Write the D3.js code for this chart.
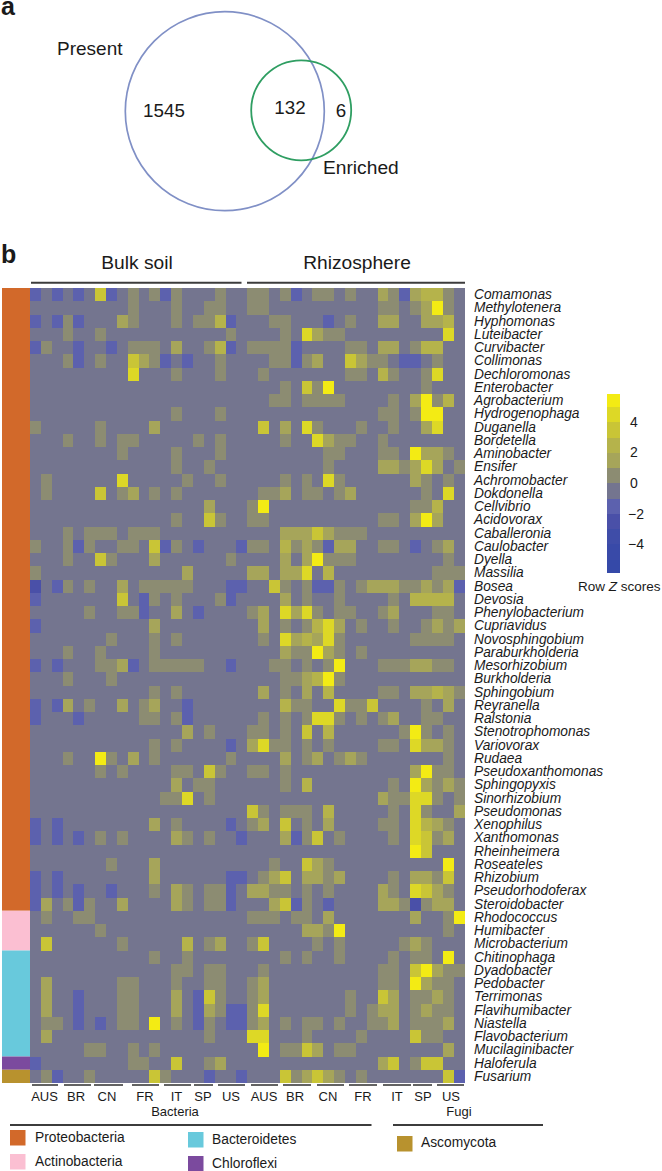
<!DOCTYPE html>
<html><head><meta charset="utf-8"><script src="https://cdn.jsdelivr.net/npm/d3@7"></script>
<style>html,body{margin:0;padding:0;background:#fff}svg{display:block}text{font-family:"Liberation Sans",Arial,sans-serif;fill:#1a1a1a}</style>
</head><body><div id="c"></div><script>
const genera=["Comamonas","Methylotenera","Hyphomonas","Luteibacter","Curvibacter","Collimonas","Dechloromonas","Enterobacter","Agrobacterium","Hydrogenophaga","Duganella","Bordetella","Aminobacter","Ensifer","Achromobacter","Dokdonella","Cellvibrio","Acidovorax","Caballeronia","Caulobacter","Dyella","Massilia","Bosea","Devosia","Phenylobacterium","Cupriavidus","Novosphingobium","Paraburkholderia","Mesorhizobium","Burkholderia","Sphingobium","Reyranella","Ralstonia","Stenotrophomonas","Variovorax","Rudaea","Pseudoxanthomonas","Sphingopyxis","Sinorhizobium","Pseudomonas","Xenophilus","Xanthomonas","Rheinheimera","Roseateles","Rhizobium","Pseudorhodoferax","Steroidobacter","Rhodococcus","Humibacter","Microbacterium","Chitinophaga","Dyadobacter","Pedobacter","Terrimonas","Flavihumibacter","Niastella","Flavobacterium","Mucilaginibacter","Haloferula","Fusarium"];
// Each token is column index + score bin (1..6 positive bins, a/c negative bins); anything absent is the neutral bin.
const scoreRows=[
"0a 2a 4a 64 7a 91 111 12a 131 171 201 211 231 24a 261 271 291 322 331 34a 352 363 373 381",
"91 131 161 171 201 211 321 331 351 362 376 381",
"0a 2a 31 4a 82 91 131 151 161 173 18a 221 231 27a 291 322 332 362 372 383",
"31 61 181 231 255 262 271 281 385",
"0a 11 4a 7a 91 101 111 132 161 173 18a 201 211 221 231 24a 291 301 322 332 351 363 373",
"31 4a 61 94 102 111 12a 14a 171 221 231 24a 251 262 294 302 311 321 34a 35a 371",
"95 131 171 211 291 301 323 331 361 375",
"231 254 261 276 361",
"221 231 251 261 271 281 331 352 366 371 383",
"131 171 321 331 351 366 376",
"01 61 112 214 232 255 261 301 331 362 375",
"31 61 81 91 151 171 231 265 272 281 291 321",
"81 131 171 271 281 321 331 356 362 372 381",
"131 161 271 322 332 341 352 365 372 391",
"11 85 141 171 231 251 275 281 352 361 381",
"11 64 81 92 111 131 211 221 232 251 261 281 292 361 385",
"162 201 216 351 361 373",
"131 164 171 201 211 321 331 352 366 372",
"31 51 61 71 91 101 111 232 242 252 264 272 281 291 301",
"01 31 4a 51 81 91 114 12a 131 15a 19a 201 211 233 241 252 261 27a 282 292 321 331 35a 371 382",
"31 64 71 112 181 232 252 266 271 281 291 381",
"01 142 202 212 232 242 255 273 371 381 391",
"0c 2a 31 51 82 101 111 121 131 141 18a 19a 224 231 251 26a 27a 281 301 312 322 332 341 351 362 371 382 39a",
"0a 84 10a 111 131 171 18a 232 251 281 331 353 363 373 383",
"51 81 91 10a 132 15a 201 212 235 242 255 261 281 291 321 332 371 381",
"0a 112 212 231 251 263 275 282 301 331 361 372 381 392",
"71 111 131 211 235 242 253 262 275 281 351 361 371 381",
"31 61 111 232 241 251 266 272 281 301",
"0a 2a 61 71 82 9a 111 121 131 141 151 18a 221 231 251 271 286 321 331 341 352 362 371 381",
"31 71 231 241 252 263 276 281",
"111 131 212 231 252 273 321 331 352 362 373 382 391",
"0a 2a 32 51 82 101 112 14a 233 241 251 285 291 301 314 361 382",
"0a 4a 101 111 131 14a 211 231 251 265 275 281 301 321 332 361 371",
"142 161 201 211 231 254 273 341 356 361 381",
"111 131 18a 202 215 221 231 251 271 321 331 355 362 372 381",
"31 66 71 92 111 181 232 251 262 281 292 301 381",
"61 81 131 141 164 171 201 211 231 352 366 371 381",
"132 151 161 231 253 331 356 362 371 382 391",
"121 131 145 161 322 331 341 355 365 371 391",
"204 211 231 241 251 273 331 355 361 392",
"0a 2a 112 131 18a 201 212 234 251 272 321 331 355 363 372 381",
"0a 2a 4a 61 81 132 141 161 19a 232 24a 251 264 281 331 355 364 371 382",
"356 364",
"71 112 221 254 262 271 386",
"0a 2a 112 18a 19a 211 222 234 252 262 271 282 331 352 362 371 384",
"0a 2a 4a 7a 111 132 141 161 171 18a 202 212 221 231 251 271 322 331 355 364 372 381",
"0a 12 31 4a 51 82 132 141 161 171 18a 222 234 24a 251 27a 322 332 341 35c 361 372 382",
"11 41 51 201 211 221 241 251 272 352 381 396",
"61 252 262 271 286 381",
"14 81 143 161 172 201 214 261 281 341 352 361",
"111 141 231 251 281 331 351 361 386",
"131 141 161 171 211 321 331 354 366 372 381 391",
"12 81 91 131 161 171 201 212 321 331 356 362 371 381",
"12 4a 81 91 132 15a 164 171 201 212 291 324 332 351 361 372 381",
"12 4a 81 91 132 15a 162 171 18a 19a 201 215 291 311 322 332 351 362 371 381",
"11 21 4a 6a 81 91 116 131 15a 161 18a 19a 201 212 231 251 261 281 311 321 332 351 361 371 382",
"12 161 205 215 251 301 354 361 371",
"51 61 91 111 216 231 241 254 262 281 291 382",
"0a 91 101 134 161 172 322 334 351 364 374",
"11 2a 51 114 121 16a 19a 234 241 252 264 272 281 301 384 39a"
];
const binZ={a:-1.5,c:-2.5,"1":0.5,"2":1.5,"3":2.5,"4":3.5,"5":4.5,"6":5.5};
const neutralZ=-0.5, colCount=40;
const phylaNames=["Proteobacteria","Actinobacteria","Bacteroidetes","Chloroflexi","Ascomycota"];
const phylaCounts=[47,3,8,1,1];
const phylaColors=["#d2692a","#fbbfd2","#68c9dc","#7b4a9e","#b8922e"];
const rampColors=["#3549a8","#394aa8","#3f4da8","#4a50a8","#5c61ae","#74758f","#8c8c72","#a6a55a","#b5b34b","#c9c536","#ddd826","#f3eb14"];
const rampTicks=[4,2,0,-2,-4];
const groupNames=["Bulk soil","Rhizosphere"];
const countryLabels=["AUS","BR","CN","FR","IT","SP","US","AUS","BR","CN","FR","IT","SP","US"];
const countrySpans=[[32,58],[64,91],[94,123],[132,159],[164,191],[194,213],[218,245],[251,278],[283,311],[317,344],[349,377],[383,411],[413,432],[437,464]];
const countryCenters=[44.5,76,107,145,176.5,203,231,264,295,328,363,397,423,451];
const vennCounts=[1545,132,6];

const svg=d3.select("#c").append("svg").attr("width",662).attr("height",1171);
const cells=d3.range(60).flatMap(r=>{
  const m=new Map(scoreRows[r].split(" ").map(t=>[+t.slice(0,-1),binZ[t.slice(-1)]]));
  return d3.range(colCount).map(c=>({r,c,z:m.has(c)?m.get(c):neutralZ}));
});
const x=d3.scaleBand().domain(d3.range(colCount)).range([30,464.5]);
const y=d3.scaleBand().domain(d3.range(60)).range([288,1083]);
const color=d3.scaleQuantize().domain([-6,6]).range(rampColors);
svg.append("g").attr("shape-rendering","crispEdges").selectAll("rect").data(cells).join("rect")
 .attr("x",d=>x(d.c)).attr("y",d=>y(d.r)).attr("width",x.bandwidth()+.3).attr("height",y.bandwidth()+.3).attr("fill",d=>color(d.z));
// phylum strip
let acc=0;
const strip=phylaCounts.map((n,i)=>{const o={i,start:acc,n};acc+=n;return o;});
svg.append("g").selectAll("rect").data(strip).join("rect")
 .attr("x",2).attr("width",28).attr("y",d=>y(d.start)).attr("height",d=>y.step()*d.n).attr("fill",d=>phylaColors[d.i]);
// row labels
svg.append("g").selectAll("text").data(genera).join("text")
 .attr("x",474).attr("y",(d,i)=>y(i)+y.bandwidth()/2+4.5).attr("font-size",13.75).attr("font-style","italic").text(d=>d);
// group headers
const rule=(a,b,yy,w=2)=>svg.append("line").attr("x1",a).attr("x2",b).attr("y1",yy).attr("y2",yy).attr("stroke","#3c3c3c").attr("stroke-width",w);
rule(31,241.5,282.7);rule(247,465,282.7);
svg.append("text").attr("x",137).attr("y",269).attr("text-anchor","middle").attr("font-size",19.2).text(groupNames[0]);
svg.append("text").attr("x",357).attr("y",269).attr("text-anchor","middle").attr("font-size",19.2).text(groupNames[1]);
// country brackets
countryLabels.forEach((t,i)=>{
  rule(countrySpans[i][0],countrySpans[i][1],1085,1.6);
  svg.append("text").attr("x",countryCenters[i]).attr("y",1101).attr("text-anchor","middle").attr("font-size",13).text(t);
});
svg.append("text").attr("x",175).attr("y",1116).attr("text-anchor","middle").attr("font-size",13).text("Bacteria");
svg.append("text").attr("x",459).attr("y",1116).attr("text-anchor","middle").attr("font-size",13).text("Fugi");
rule(10,371.5,1125);rule(393,543,1125);
// legend
const legendPos=[[10,1130,35,1142],[10,1154,35,1166],[188,1132,212,1144],[188,1156,212,1168],[397,1136,421,1147]];
phylaNames.forEach((n,i)=>{
  const p=legendPos[i];
  svg.append("rect").attr("x",p[0]).attr("y",p[1]).attr("width",15.5).attr("height",15.5).attr("fill",phylaColors[i]);
  svg.append("text").attr("x",p[2]).attr("y",p[3]).attr("font-size",13.8).text(n);
});
// colour bar
const rampY=d3.scaleLinear().domain([-5.87,5.83]).range([572.7,394]);
const rampBins=rampColors.map((c,i)=>({c,lo:-6+i,hi:-5+i}));
svg.append("g").attr("shape-rendering","crispEdges").selectAll("rect").data(rampBins).join("rect")
 .attr("x",607).attr("width",12.7).attr("y",d=>Math.max(394,rampY(d.hi))).attr("height",d=>Math.min(572.7,rampY(d.lo))-Math.max(394,rampY(d.hi))+.3).attr("fill",d=>d.c);
svg.append("g").selectAll("text").data(rampTicks).join("text")
 .attr("x",d=>d<0?628:630).attr("y",d=>rampY(d)+5).attr("font-size",14).text(d=>d<0?"\u2212"+(-d):d);
const rz=svg.append("text").attr("x",578).attr("y",591).attr("font-size",13.5);
rz.append("tspan").text("Row ");rz.append("tspan").attr("font-style","italic").text("Z");rz.append("tspan").text(" scores");
// venn
svg.append("circle").attr("cx",224.8).attr("cy",111.2).attr("r",99.5).attr("fill","none").attr("stroke","#8090c6").attr("stroke-width",1.7);
svg.append("circle").attr("cx",301.2).attr("cy",110.3).attr("r",50).attr("fill","none").attr("stroke","#2f9e62").attr("stroke-width",1.8);
svg.append("text").attr("x",164).attr("y",117).attr("text-anchor","middle").attr("font-size",18.8).text(vennCounts[0]);
svg.append("text").attr("x",290).attr("y",114).attr("text-anchor","middle").attr("font-size",18.8).text(vennCounts[1]);
svg.append("text").attr("x",341).attr("y",117).attr("text-anchor","middle").attr("font-size",18.8).text(vennCounts[2]);
svg.append("text").attr("x",57).attr("y",55).attr("font-size",19).text("Present");
svg.append("text").attr("x",323).attr("y",174).attr("font-size",19.2).text("Enriched");
svg.append("text").attr("x",1).attr("y",15).attr("font-size",25).attr("font-weight","bold").text("a");
svg.append("text").attr("x",1).attr("y",263).attr("font-size",25).attr("font-weight","bold").text("b");
</script></body></html>
